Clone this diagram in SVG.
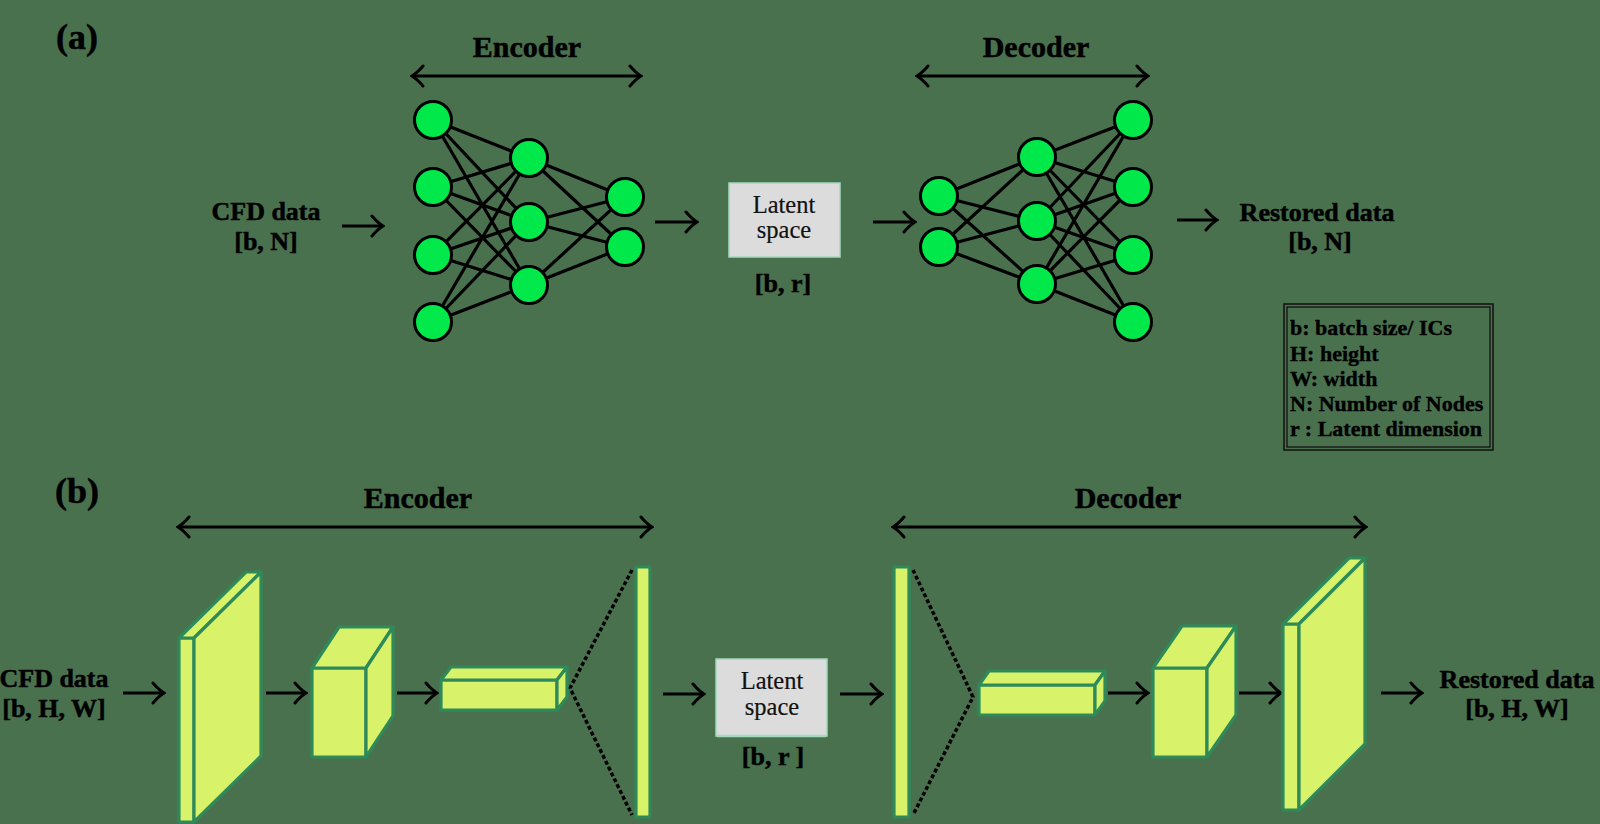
<svg xmlns="http://www.w3.org/2000/svg" width="1600" height="824" viewBox="0 0 1600 824">
<defs>
<style>
.t{font-family:"Liberation Serif","Times New Roman",serif;font-weight:bold;fill:#000;stroke:#000;stroke-width:0.5;text-anchor:middle}
.lbl{font-size:26px}
.hd{font-size:30px}
.pl{font-size:36px}
.lat{font-family:"Liberation Serif","Times New Roman",serif;font-size:24.5px;fill:#111;stroke:#111;stroke-width:0.2;text-anchor:middle}
.leg{font-family:"Liberation Serif","Times New Roman",serif;font-weight:bold;font-size:22px;fill:#000;stroke:#000;stroke-width:0.4}
.edge{stroke:#000;stroke-width:3.2;fill:none}
.node{fill:#00e84a;stroke:#000;stroke-width:3}
.arr{stroke:#000;stroke-width:3;fill:none;marker-end:url(#ah)}
.darr{stroke:#000;stroke-width:3;fill:none;marker-end:url(#ah);marker-start:url(#ah)}
.blk{fill:#d8f36a;stroke:#2f8a5a;stroke-width:3.2;stroke-linejoin:round}
.dash{stroke:#000;stroke-width:3.5;fill:none;stroke-dasharray:4 2.5}
.latbox{fill:#dcdcdc;stroke:#a3d9bf;stroke-width:1.5}
</style>
<marker id="ah" viewBox="-14 -13 16 26" markerWidth="16" markerHeight="26" refX="0" refY="0" orient="auto-start-reverse" markerUnits="userSpaceOnUse">
<path d="M-11,-10 Q-5,-3 0,0 Q-5,3 -11,10" fill="none" stroke="#000" stroke-width="3" stroke-linecap="round"/>
</marker>
</defs>
<rect x="0" y="0" width="1600" height="824" fill="#4a714e"/>

<g id="labels-a">
<text class="t pl" x="77" y="49">(a)</text>
<text class="t hd" x="527" y="57">Encoder</text>
<text class="t hd" x="1036" y="57">Decoder</text>
</g>

<g id="connectors-a">
<line class="darr" x1="412" y1="76" x2="641" y2="76"/>
<line class="darr" x1="917" y1="76" x2="1148" y2="76"/>
<line class="arr" x1="342" y1="226" x2="383" y2="226"/>
<line class="arr" x1="655" y1="222" x2="697" y2="222"/>
<line class="arr" x1="873" y1="222" x2="915" y2="222"/>
<line class="arr" x1="1177" y1="220" x2="1217" y2="220"/>
</g>

<g id="encoder-net">
<g id="enc-edges">
<path class="edge" d="M433,120L529,158M433,120L529,222M433,120L529,285M433,187L529,158M433,187L529,222M433,187L529,285M433,255L529,158M433,255L529,222M433,255L529,285M433,322L529,158M433,322L529,222M433,322L529,285"/>
<path class="edge" d="M529,158L625,197M529,158L625,247M529,222L625,197M529,222L625,247M529,285L625,197M529,285L625,247"/>
</g>
<circle class="node" cx="433" cy="120" r="18.5"/>
<circle class="node" cx="433" cy="187" r="18.5"/>
<circle class="node" cx="433" cy="255" r="18.5"/>
<circle class="node" cx="433" cy="322" r="18.5"/>
<circle class="node" cx="529" cy="158" r="18.5"/>
<circle class="node" cx="529" cy="222" r="18.5"/>
<circle class="node" cx="529" cy="285" r="18.5"/>
<circle class="node" cx="625" cy="197" r="18.5"/>
<circle class="node" cx="625" cy="247" r="18.5"/>
</g>

<g id="decoder-net">
<g id="dec-edges">
<path class="edge" d="M939,196L1037,157M939,196L1037,221M939,196L1037,284M939,247L1037,157M939,247L1037,221M939,247L1037,284"/>
<path class="edge" d="M1037,157L1133,120M1037,157L1133,187M1037,157L1133,255M1037,157L1133,322M1037,221L1133,120M1037,221L1133,187M1037,221L1133,255M1037,221L1133,322M1037,284L1133,120M1037,284L1133,187M1037,284L1133,255M1037,284L1133,322"/>
</g>
<circle class="node" cx="939" cy="196" r="18.5"/>
<circle class="node" cx="939" cy="247" r="18.5"/>
<circle class="node" cx="1037" cy="157" r="18.5"/>
<circle class="node" cx="1037" cy="221" r="18.5"/>
<circle class="node" cx="1037" cy="284" r="18.5"/>
<circle class="node" cx="1133" cy="120" r="18.5"/>
<circle class="node" cx="1133" cy="187" r="18.5"/>
<circle class="node" cx="1133" cy="255" r="18.5"/>
<circle class="node" cx="1133" cy="322" r="18.5"/>
</g>

<g id="input-a">
<text class="t lbl" x="266" y="220">CFD data</text>
<text class="t lbl" x="266" y="250">[b, N]</text>
</g>

<g id="latent-a">
<rect class="latbox" x="729" y="183" width="111" height="74"/>
<text class="lat" x="784" y="213">Latent</text>
<text class="lat" x="784" y="238">space</text>
<text class="t lbl" x="783" y="292">[b, r]</text>
</g>

<g id="output-a">
<text class="t lbl" x="1317" y="221">Restored data</text>
<text class="t lbl" x="1320" y="250">[b, N]</text>
</g>

<g id="legend">
<rect x="1284" y="304" width="209" height="146" fill="none" stroke="#111" stroke-width="1.5"/>
<rect x="1287" y="307" width="203" height="140" fill="none" stroke="#111" stroke-width="1.3"/>
<text class="leg" x="1290" y="335">b: batch size/ ICs</text>
<text class="leg" x="1290" y="360.5">H: height</text>
<text class="leg" x="1290" y="385.5">W: width</text>
<text class="leg" x="1290" y="410.5">N: Number of Nodes</text>
<text class="leg" x="1290" y="436">r : Latent dimension</text>
</g>

<g id="labels-b">
<text class="t pl" x="77" y="503">(b)</text>
<text class="t hd" x="418" y="508">Encoder</text>
<text class="t hd" x="1128" y="508">Decoder</text>
</g>

<g id="connectors-b">
<line class="darr" x1="178" y1="527" x2="652" y2="527"/>
<line class="darr" x1="893" y1="527" x2="1366" y2="527"/>
<line class="arr" x1="123" y1="693" x2="164" y2="693"/>
<line class="arr" x1="266" y1="693" x2="306" y2="693"/>
<line class="arr" x1="397" y1="693" x2="437" y2="693"/>
<line class="arr" x1="663" y1="694" x2="704" y2="694"/>
<line class="arr" x1="840" y1="694" x2="882" y2="694"/>
<line class="arr" x1="1108" y1="693" x2="1148" y2="693"/>
<line class="arr" x1="1239" y1="693" x2="1281" y2="693"/>
<line class="arr" x1="1381" y1="693" x2="1422" y2="693"/>
<path class="dash" d="M632,570L570,688L632,815"/>
<path class="dash" d="M913,570L973,697L913,815"/>
</g>

<g id="input-b">
<text class="t lbl" x="54" y="687">CFD data</text>
<text class="t lbl" x="54" y="717">[b, H, W]</text>
</g>

<g id="enc-slab">
<rect class="blk" x="179" y="638" width="15" height="184"/>
<polygon class="blk" points="179,638 194,638 261,572 246,572"/>
<polygon class="blk" points="194,638 261,572 261,756 194,822"/>
</g>
<g id="enc-cube">
<rect class="blk" x="312" y="668" width="54" height="89"/>
<polygon class="blk" points="312,668 366,668 393,627 339,627"/>
<polygon class="blk" points="366,668 393,627 393,716 366,757"/>
</g>
<g id="enc-flat">
<rect class="blk" x="441" y="680" width="116" height="30"/>
<polygon class="blk" points="441,680 557,680 567,667 451,667"/>
<polygon class="blk" points="557,680 567,667 567,697 557,710"/>
</g>
<g id="enc-vector">
<rect class="blk" x="636" y="567" width="14" height="250"/>
</g>

<g id="latent-b">
<rect class="latbox" x="716" y="659" width="111" height="77"/>
<line x1="717" y1="736" x2="826" y2="736" stroke="#a3d9bf" stroke-width="2.5"/>
<text class="lat" x="772" y="689">Latent</text>
<text class="lat" x="772" y="715">space</text>
<text class="t lbl" x="773" y="765">[b, r ]</text>
</g>

<g id="dec-vector">
<rect class="blk" x="894" y="567" width="15" height="250"/>
</g>
<g id="dec-flat">
<rect class="blk" x="979" y="685" width="116" height="30"/>
<polygon class="blk" points="979,685 1095,685 1105,671 989,671"/>
<polygon class="blk" points="1095,685 1105,671 1105,701 1095,715"/>
</g>
<g id="dec-cube">
<rect class="blk" x="1153" y="668" width="54" height="89"/>
<polygon class="blk" points="1153,668 1207,668 1236,626 1182,626"/>
<polygon class="blk" points="1207,668 1236,626 1236,715 1207,757"/>
</g>
<g id="dec-slab">
<rect class="blk" x="1283" y="624" width="16" height="186"/>
<polygon class="blk" points="1283,624 1299,624 1365,558 1349,558"/>
<polygon class="blk" points="1299,624 1365,558 1365,744 1299,810"/>
</g>

<g id="output-b">
<text class="t lbl" x="1517" y="688">Restored data</text>
<text class="t lbl" x="1517" y="717">[b, H, W]</text>
</g>
</svg>
